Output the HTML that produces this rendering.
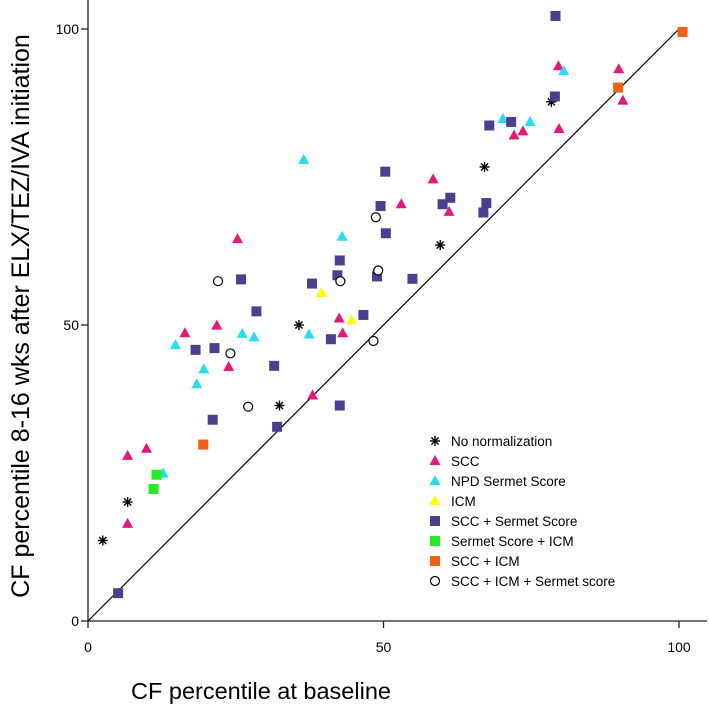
<!DOCTYPE html>
<html><head><meta charset="utf-8"><style>
body{margin:0;background:#fff}
svg text{font-family:"Liberation Sans",sans-serif}
</style></head><body>
<svg id="chart" width="709" height="709" viewBox="0 0 709 709" xmlns="http://www.w3.org/2000/svg">
<g id="axes"></g>
<g id="marks"></g>
<g id="legend"></g>
<text x="261" y="699" font-size="23.5" text-anchor="middle">CF percentile at baseline</text>
<text transform="translate(29,316) rotate(-90)" font-size="25" text-anchor="middle">CF percentile 8-16 wks after  ELX/TEZ/IVA initiation</text>
</svg>
<script>
const xTicks=[0,50,100];
const yTicks=[0,50,100];
const groups=["No normalization","SCC","NPD Sermet Score","ICM","SCC + Sermet Score","Sermet Score + ICM","SCC + ICM","SCC + ICM + Sermet score"];
const starX=[2.5,6.7,32.4,35.7,59.6,67.1,78.4];
const starY=[13.6,20.1,36.4,50,63.5,76.7,87.7];
const sccX=[6.7,6.7,9.9,16.4,21.8,23.8,25.3,38.0,42.5,43.1,53.0,58.4,61.1,72.1,73.6,79.7,79.6,89.8,90.5];
const sccY=[16.4,27.9,29.1,48.6,49.9,42.9,64.5,38.1,51.1,48.6,70.4,74.6,69.1,82.0,82.7,83.1,93.7,93.2,87.9];
const npdX=[12.7,14.8,18.4,19.6,26.1,28.1,36.5,37.4,43.0,70.2,74.8,80.5];
const npdY=[24.9,46.6,40.0,42.5,48.5,47.9,77.9,48.4,64.9,84.8,84.3,92.9];
const icmX=[39.5,44.6];
const icmY=[55.4,50.8];
const sssX=[5.1,18.2,21.1,21.4,25.9,28.5,31.5,32.0,37.9,41.1,42.2,42.6,42.6,46.6,48.9,49.5,50.3,50.4,54.9,60.0,61.3,66.9,67.4,67.9,71.6,79.0,79.1];
const sssY=[4.7,45.8,34.0,46.1,57.7,52.3,43.1,32.8,57.0,47.6,58.4,60.9,36.4,51.7,58.2,70.1,75.9,65.5,57.8,70.4,71.5,69.0,70.6,83.7,84.3,88.6,102.2];
const ssiX=[11.1,11.6];
const ssiY=[22.3,24.7];
const sciX=[19.5,89.7,100.6];
const sciY=[29.8,90.1,99.5];
const allX=[22.0,24.1,27.1,42.7,48.3,48.7,49.1];
const allY=[57.4,45.2,36.2,57.4,47.3,68.2,59.2];

const X0=88,X1=679,Y0=621,Y1=29;
const sx=v=>X0+(X1-X0)*v/100;
const sy=v=>Y0-(Y0-Y1)*v/100;
const NS="http://www.w3.org/2000/svg";
function mk(tag,parent,attrs){const e=document.createElementNS(NS,tag);for(const k in attrs)e.setAttribute(k,attrs[k]);parent.appendChild(e);return e;}
const axes=document.getElementById('axes');
let l=mk('line',axes,{x1:X0,y1:0,x2:X0,y2:Y0,stroke:'#222','stroke-width':1.3});


l=mk('line',axes,{x1:X0,y1:Y0,x2:707,y2:Y0,stroke:'#222','stroke-width':1.3});


l=mk('line',axes,{x1:sx(0),y1:sy(0),x2:sx(100),y2:sy(100),stroke:'#000','stroke-width':1.2});


xTicks.forEach(v=>{
  const t=mk('line',axes,{x1:sx(v),y1:Y0,x2:sx(v),y2:Y0+7,stroke:'#222','stroke-width':1.3});
  
  
  const tx=mk('text',axes,{x:sx(v),y:652,'font-size':14,'text-anchor':'middle'});tx.textContent=v;
  
  
});
yTicks.forEach(v=>{
  const t=mk('line',axes,{x1:X0-7,y1:sy(v),x2:X0,y2:sy(v),stroke:'#222','stroke-width':1.3});
  
  
  const tx=mk('text',axes,{x:79,y:sy(v)+5,'font-size':14,'text-anchor':'end'});tx.textContent=v;
  
  
});
function marker(g,type,color,cx,cy){
  let e;
  if(type==='star'){
    e=mk('g',g,{stroke:'#000','stroke-width':1.4});
    for(let a=0;a<4;a++){const ang=a*Math.PI/4;const dx=5*Math.cos(ang),dy=5*Math.sin(ang);mk('line',e,{x1:cx-dx,y1:cy-dy,x2:cx+dx,y2:cy+dy});}
  }else if(type==='tri'){
    e=mk('polygon',g,{points:`${cx},${cy-6} ${cx-5.5},${cy+4} ${cx+5.5},${cy+4}`,fill:color});
  }else if(type==='sq'){
    e=mk('rect',g,{x:cx-5,y:cy-5,width:10,height:10,fill:color});
  }else{
    e=mk('circle',g,{cx:cx,cy:cy,r:4.5,fill:'#fff',stroke:'#000','stroke-width':1.2});
  }
  return e;
}
const series=[
 [starX,starY,'star','#000','no-normalization'],
 [sccX,sccY,'tri','#e6197a','scc'],
 [npdX,npdY,'tri','#22e0f2','npd-sermet-score'],
 [icmX,icmY,'tri','#ffff00','icm'],
 [sssX,sssY,'sq','#4b3f8f','scc-sermet-score'],
 [ssiX,ssiY,'sq','#22ee22','sermet-score-icm'],
 [sciX,sciY,'sq','#f06010','scc-icm'],
 [allX,allY,'circ','#fff','scc-icm-sermet-score']
];
const marks=document.getElementById('marks');
const legend=document.getElementById('legend');
series.forEach((s,i)=>{
  const g=mk('g',marks,{});
  
  
  s[0].forEach((xv,j)=>{
    const m=marker(g,s[2],s[3],sx(xv),sy(s[1][j]));
    
    
  });
  const ly=441+i*20;
  const lg=mk('g',legend,{});
  
  
  marker(lg,s[2],s[3],435,ly);
  const t=mk('text',lg,{x:451,y:ly+5,'font-size':13.5});t.textContent=groups[i];
});
</script>
</body></html>
